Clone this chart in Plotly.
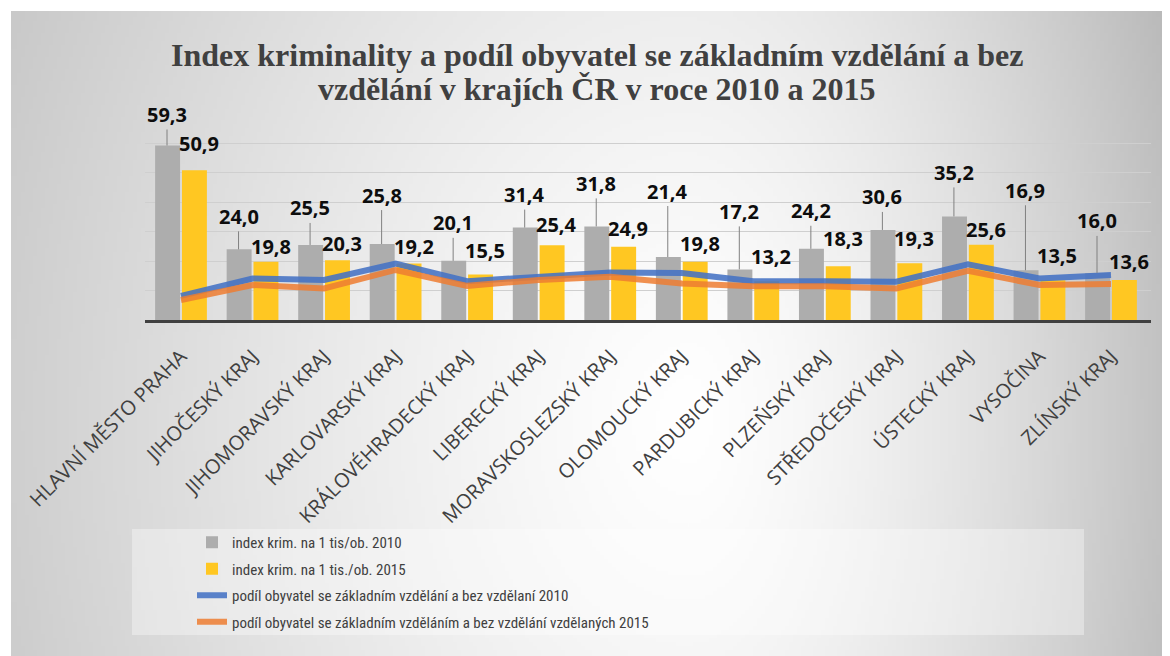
import base64
import struct
import zlib

import numpy as np
import plotly.graph_objects as go

# ---------------- data ----------------
regions = [
    "HLAVNÍ MĚSTO PRAHA", "JIHOČESKÝ KRAJ", "JIHOMORAVSKÝ KRAJ", "KARLOVARSKÝ KRAJ",
    "KRÁLOVÉHRADECKÝ KRAJ", "LIBERECKÝ KRAJ", "MORAVSKOSLEZSKÝ KRAJ", "OLOMOUCKÝ KRAJ",
    "PARDUBICKÝ KRAJ", "PLZEŇSKÝ KRAJ", "STŘEDOČESKÝ KRAJ", "ÚSTECKÝ KRAJ",
    "VYSOČINA", "ZLÍNSKÝ KRAJ",
]
crime_2010 = [59.3, 24.0, 25.5, 25.8, 20.1, 31.4, 31.8, 21.4, 17.2, 24.2, 30.6, 35.2, 16.9, 16.0]
crime_2015 = [50.9, 19.8, 20.3, 19.2, 15.5, 25.4, 24.9, 19.8, 13.2, 18.3, 19.3, 25.6, 13.5, 13.6]
edu_2010 = [8.2, 14.1, 13.6, 19.2, 13.2, 14.7, 16.1, 16.0, 13.2, 13.2, 13.0, 18.9, 14.1, 15.3]
edu_2015 = [6.8, 11.9, 10.7, 17.0, 11.6, 13.6, 14.7, 12.4, 11.5, 11.5, 10.7, 16.7, 11.9, 12.2]

series_names = [
    "index krim. na 1 tis/ob. 2010",
    "index krim. na 1 tis./ob. 2015",
    "podíl obyvatel se základním vzdělání a bez vzdělaní 2010",
    "podíl obyvatel se základním vzděláním a bez vzdělání vzdělaných 2015",
]
title_lines = [
    "Index kriminality a podíl obyvatel se základním vzdělání a bez",
    "vzdělání v krajích ČR v roce 2010 a 2015",
]

# label placement (pixels above bar top), manual callout positions
lift_2010 = [31, 33, 37, 49, 38, 33, 43, 66, 58, 38, 33, 44, 80, 52]
lift_2015 = [27, 15, 17, 17, 24, 21, 18, 18, 25, 28, 25, 15, 25, 18]

# ---------------- geometry ----------------
OFF = 8  # page body margin in the browser
W, H = 1170 - OFF, 656 - OFF
PLOT_L, PLOT_R, PLOT_T, PLOT_B = 145, 1151, 114, 320  # in page pixels
ML = PLOT_L - OFF
MR = W - (PLOT_R - OFF)
MT = PLOT_T - OFF
MB = H - (PLOT_B - OFF)
PW = PLOT_R - PLOT_L
PH = PLOT_B - PLOT_T


def px_to_paper_x(px):
    return (px - PLOT_L) / PW


def px_to_paper_y(py):
    return (PLOT_B - py) / PH


# ---------------- background gradient image ----------------
def make_png(gray):
    h, w = gray.shape
    raw = b"".join(b"\x00" + gray[j].tobytes() for j in range(h))

    def chunk(tag, data):
        c = struct.pack(">I", len(data)) + tag + data
        return c + struct.pack(">I", zlib.crc32(tag + data) & 0xFFFFFFFF)

    png = b"\x89PNG\r\n\x1a\n"
    png += chunk(b"IHDR", struct.pack(">IIBBBBB", w, h, 8, 0, 0, 0, 0))
    png += chunk(b"IDAT", zlib.compress(raw, 9))
    png += chunk(b"IEND", b"")
    return "data:image/png;base64," + base64.b64encode(png).decode()


bx0, by0, bx1, by1 = 11, 11, 1170, 656
gw, gh = 290, 162
X = bx0 + (np.arange(gw) + 0.5) * (bx1 - bx0) / gw
Y = by0 + (np.arange(gh) + 0.5) * (by1 - by0) / gh
XX, YY = np.meshgrid(X, Y)
cx, cy = 690.0, 420.0
dxn = np.where(XX < cx, (XX - cx) / 680.0, (XX - cx) / 480.0)
dyn = (YY - cy) / 900.0
d = np.sqrt(dxn ** 2 + dyn ** 2)
k = 48 + 14 * np.clip((XX - cx) / 480.0, 0, 1)
gray = np.clip(255 - k * np.clip(d, 0, 1.3) ** 1.3, 0, 255).astype(np.uint8)
bg_src = make_png(gray)

# ---------------- figure ----------------
fig = go.Figure()
fig.add_trace(go.Bar(x=regions, y=crime_2010, name=series_names[0], legendgroup="a",
                     marker=dict(color="#ADADAD", line=dict(width=0))))
fig.add_trace(go.Bar(x=regions, y=crime_2015, name=series_names[1], legendgroup="b",
                     marker=dict(color="#FFC722", line=dict(width=0))))
fig.add_trace(go.Scatter(x=regions, y=edu_2010, name=series_names[2], mode="lines",
                         legendgroup="c",
                         line=dict(color="rgba(68,114,196,0.88)", width=6)))
fig.add_trace(go.Scatter(x=regions, y=edu_2015, name=series_names[3], mode="lines",
                         legendgroup="d",
                         line=dict(color="rgba(237,125,49,0.85)", width=6)))

label_font = dict(family="Open Sans, Lato, sans-serif", size=20, color="#0d0d0d")
annotations = []
for i, r in enumerate(regions):
    annotations.append(dict(
        x=r, y=crime_2010[i], xref="x", yref="y", xshift=-14,
        text="<b>%s</b>" % f"{crime_2010[i]:.1f}".replace(".", ","),
        showarrow=True, arrowhead=0, arrowwidth=1, arrowcolor="#808080",
        ax=0, ay=-lift_2010[i], font=label_font,
    ))
    annotations.append(dict(
        x=r, y=crime_2015[i], xref="x", yref="y", xshift=18, yshift=lift_2015[i],
        text="<b>%s</b>" % f"{crime_2015[i]:.1f}".replace(".", ","),
        showarrow=False, yanchor="middle", font=label_font,
    ))

title_font = dict(family="Liberation Serif, Times New Roman, serif", size=32, color="#404040")
for line, yc in zip(title_lines, [55, 89]):
    annotations.append(dict(
        x=px_to_paper_x(597), y=px_to_paper_y(yc), xref="paper", yref="paper",
        xanchor="center", yanchor="middle", showarrow=False,
        text="<b>%s</b>" % line, font=title_font,
    ))

fig.update_layout(
    width=W, height=H,
    margin=dict(l=ML, r=MR, t=MT, b=MB, pad=0),
    paper_bgcolor="white",
    plot_bgcolor="rgba(0,0,0,0)",
    barmode="group", bargap=0.25, bargroupgap=0.07,
    xaxis=dict(
        tickangle=-45, showline=True, linecolor="#404040", linewidth=3,
        showgrid=False, ticks="", ticklabelstandoff=14,
        tickfont=dict(family="Open Sans, sans-serif", size=20, color="#404040"),
    ),
    yaxis=dict(range=[0, 70], dtick=10, showticklabels=False, zeroline=False,
               showgrid=True, gridcolor="#cfcfcf", gridwidth=1, showline=False, ticks=""),
    showlegend=True,
    legend=dict(
        x=px_to_paper_x(192), y=px_to_paper_y(526), xanchor="left", yanchor="top",
        bgcolor="rgba(0,0,0,0)", borderwidth=0, tracegroupgap=4,
        font=dict(family="Liberation Sans Narrow, Roboto Condensed, Liberation Sans, sans-serif",
                  size=15, color="#404040"),
        itemwidth=30,
    ),
    annotations=annotations,
    images=[dict(source=bg_src, xref="paper", yref="paper",
                 x=px_to_paper_x(bx0), y=px_to_paper_y(by0),
                 sizex=(bx1 - bx0) / PW, sizey=(by1 - by0) / PH,
                 xanchor="left", yanchor="top", sizing="stretch", layer="below")],
    shapes=[dict(type="rect", xref="paper", yref="paper", layer="below",
                 x0=px_to_paper_x(132), x1=px_to_paper_x(1084),
                 y0=px_to_paper_y(635), y1=px_to_paper_y(529),
                 fillcolor="rgba(255,255,255,0.35)", line=dict(width=0))],
)

fig.write_html("out.html")
